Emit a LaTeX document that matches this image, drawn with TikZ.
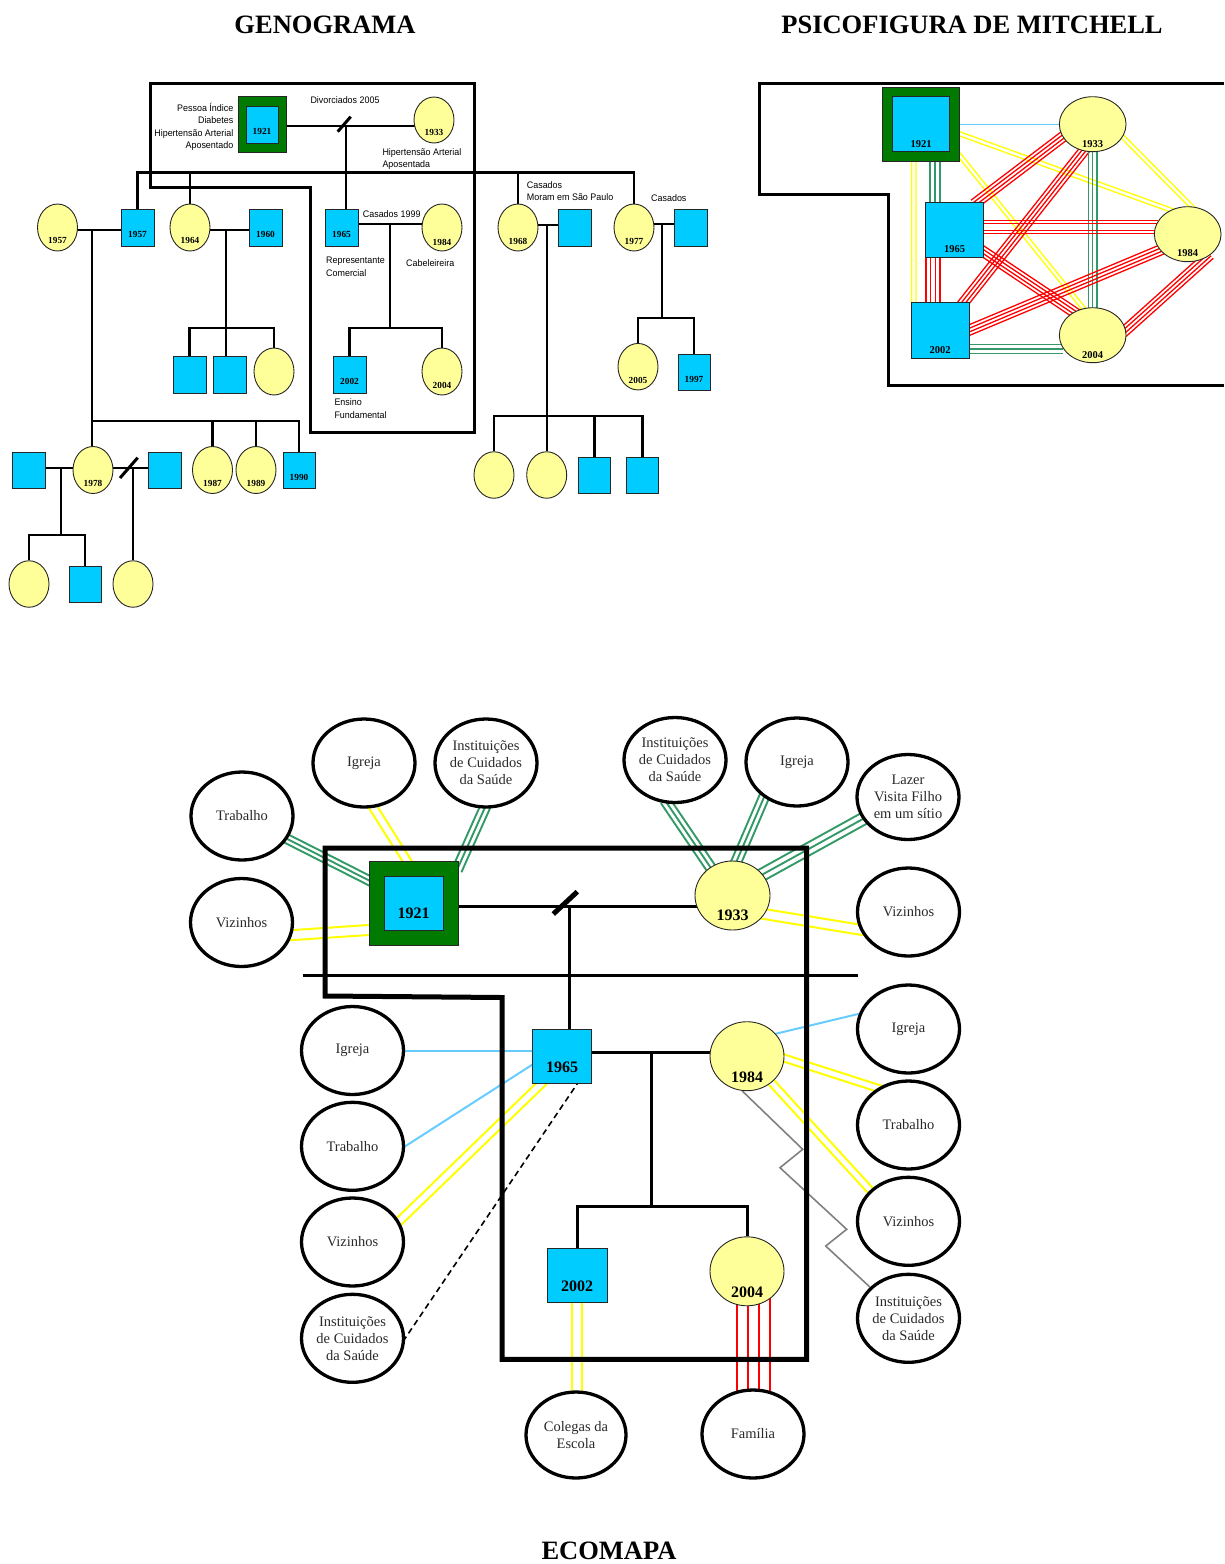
\documentclass[tikz,border=0pt]{standalone}
\usepackage{fontspec}
\setmainfont{Liberation Serif}
\newfontfamily\gsans[FakeStretch=0.94]{Liberation Sans}
\usetikzlibrary{shapes.geometric,calc}
\pgfdeclarelayer{bg}
\pgfsetlayers{bg,main}
\definecolor{cyanb}{HTML}{00CCFF}
\definecolor{yel}{HTML}{FFFF99}
\definecolor{dgreen}{HTML}{007A00}
\definecolor{lgreen}{HTML}{339966}
\definecolor{lyel}{HTML}{FFFF00}
\definecolor{lred}{HTML}{FF0000}
\definecolor{lblue}{HTML}{66CCFF}
\definecolor{txtg}{HTML}{2A2A2A}
\newcommand\parlines[4]{\foreach \offs in {#2}{\draw[#1] ($#3!\offs pt!90:#4$) -- ($#4!\offs pt!-90:#3$);}}
\tikzset{
 ttl/.style={font=\bfseries\fontsize{26.5}{30}\selectfont, inner sep=0pt},
 gtx/.style={font=\gsans\fontsize{9.5}{12.2}\selectfont, inner sep=0pt},
 gyr/.style={font=\bfseries\fontsize{9.3}{10}\selectfont, inner sep=0pt, yshift=#1pt},
 myr/.style={font=\bfseries\fontsize{10.5}{12}\selectfont, inner sep=0pt, yshift=#1pt},
 eyr/.style={font=\bfseries\fontsize{16}{18}\selectfont, inner sep=0pt, yshift=#1pt},
 sqb/.style={rectangle, draw=black!85, line width=0.9pt, fill=cyanb, inner sep=0pt},
 gsq/.style={sqb, minimum width=33pt, minimum height=37pt},
 cib/.style={ellipse, draw=black!85, line width=0.9pt, fill=yel, inner sep=0pt},
 gci/.style={cib, minimum width=40pt, minimum height=47pt},
 grn/.style={rectangle, draw=black!85, line width=0.9pt, fill=dgreen, inner sep=0pt},
 gl/.style={line width=2.3pt},
 el/.style={line width=3pt},
 eco/.style={ellipse, draw, line width=3.3pt, fill=white, minimum width=102pt, minimum height=88pt, inner sep=0pt, align=center, text=txtg, font=\fontsize{14.5}{17}\selectfont},
 ext/.style={shorten <=-4pt, shorten >=-4pt},
 ygl/.style={draw=lyel, line width=2pt, ext},
 grl/.style={draw=lgreen, line width=1.9pt, ext},
 rdl/.style={draw=lred, line width=2pt, ext},
 bll/.style={draw=lblue, line width=2pt, ext},
 myl/.style={draw=lyel, line width=1.3pt, ext},
 mgr/.style={draw=lgreen, line width=1.3pt, ext},
 mrd/.style={draw=lred, line width=1.3pt, ext},
 mbl/.style={draw=lblue, line width=1.3pt},
}
\begin{document}
\begin{tikzpicture}[x=1pt,y=-1pt]
\useasboundingbox (0,0) rectangle (1224,1564);

% ---------------- titles
\node[ttl] (t1) at (325,25) {GENOGRAMA};
\node[ttl] (t2) at (972,25) {PSICOFIGURA DE MITCHELL};
\node[ttl] (t3) at (609,1551) {ECOMAPA};

% ---------------- GENOGRAMA nodes
\node[grn, minimum width=48pt, minimum height=56pt] (g1921) at (262,124) {};
\node[sqb, minimum width=32pt, minimum height=37pt, label={[gyr=-7]center:1921}] (g1921i) at (262,124.5) {};
\node[cib, minimum width=40pt, minimum height=46pt, label={[gyr=-12.5]center:1933}] (g1933) at (434,120) {};
\node[gci, label={[gyr=-13]center:1957}] (gc1957) at (57.5,227.5) {};
\node[gsq, label={[gyr=-6.5]center:1957}] (gs1957) at (137.5,227.5) {};
\node[gci, label={[gyr=-13]center:1964}] (gc1964) at (190,227.5) {};
\node[gsq, label={[gyr=-6.5]center:1960}] (gs1960) at (265.5,227.5) {};
\node[gsq, label={[gyr=-6.5]center:1965}] (gs1965) at (341.5,227.5) {};
\node[gci, label={[gyr=-14.5]center:1984}] (gc1984) at (442,227.5) {};
\node[gci, label={[gyr=-14]center:1968}] (gc1968) at (518,227.5) {};
\node[gsq] (gs68h) at (574.5,227.5) {};
\node[gci, label={[gyr=-14]center:1977}] (gc1977) at (634,227.5) {};
\node[gsq] (gs77h) at (690.5,227.5) {};
\node[gsq] (gs64a) at (189.5,375) {};
\node[gsq] (gs64b) at (229.5,375) {};
\node[gci] (gc64c) at (274,371.5) {};
\node[gsq, label={[gyr=-6.5]center:2002}] (gs2002) at (349.5,374.5) {};
\node[gci, label={[gyr=-14]center:2004}] (gc2004) at (442,371.5) {};
\node[gci, minimum height=46.5pt, label={[gyr=-13.5]center:2005}] (gc2005) at (638,366.7) {};
\node[gsq, minimum width=32pt, minimum height=36pt, label={[gyr=-7.5]center:1997}] (gs1997) at (694,372) {};
\node[gci, minimum height=46.5pt] (gc68a) at (494,475) {};
\node[gci, minimum height=46.5pt] (gc68b) at (546.7,475) {};
\node[gsq, minimum width=32pt, minimum height=36pt] (gs68c) at (594.5,475.3) {};
\node[gsq, minimum width=32pt, minimum height=36pt] (gs68d) at (642.5,475.3) {};
\node[gsq, minimum height=36pt] (gs78h) at (28.5,470) {};
\node[gci, label={[gyr=-13]center:1978}] (gc1978) at (93,470) {};
\node[gsq, minimum height=36pt] (gs78x) at (165,470) {};
\node[gci, label={[gyr=-13]center:1987}] (gc1987) at (212.5,470) {};
\node[gci, label={[gyr=-13]center:1989}] (gc1989) at (256,470) {};
\node[gsq, minimum width=32pt, minimum height=36pt, label={[gyr=-7]center:1990}] (gs1990) at (299,470) {};
\node[gci, minimum height=46.5pt] (gc78a) at (29,584) {};
\node[gsq, minimum width=32pt, minimum height=36pt] (gs78b) at (85,584) {};
\node[gci, minimum height=46.5pt] (gc78c) at (133,584) {};

% genogram texts
\node[gtx, align=right, anchor=north east] (tpi) at (233.5,103.3) {Pessoa Índice\\Diabetes\\Hipertensão Arterial\\Aposentado};
\node[gtx, anchor=base] (tdiv) at (345,103.7) {Divorciados 2005};
\node[gtx, align=left, anchor=north west] (tha) at (382.3,148.6) {Hipertensão Arterial\\Aposentada};
\node[gtx, anchor=base west] (tc99) at (362.7,217.3) {Casados 1999};
\node[gtx, align=left, anchor=north west] (trc) at (326,257.2) {Representante\\Comercial};
\node[gtx, anchor=base west] (tcab) at (406,266) {Cabeleireira};
\node[gtx, align=left, anchor=north west] (tef) at (334.3,398.9) {Ensino\\Fundamental};
\node[gtx, align=left, anchor=north west] (tsp) at (526.7,181.5) {Casados\\Moram em São Paulo};
\node[gtx, anchor=base west] (tcas) at (651,201.7) {Casados};

% genogram frame
\draw[line width=3pt] (150,83) -- (474,83) -- (474,432) -- (310,432) -- (310,187) -- (150,187) -- cycle;

% ---------------- MITCHELL nodes
\node[grn, minimum width=76.6pt, minimum height=73.7pt] (m1921) at (921,124.2) {};
\node[sqb, minimum width=56.6pt, minimum height=55pt, label={[myr=-20]center:1921}] (m1921i) at (921,124.2) {};
\node[cib, minimum width=66.7pt, minimum height=55pt, label={[myr=-20]center:1933}] (m1933) at (1092.7,124.2) {};
\node[sqb, minimum width=57.6pt, minimum height=55pt, label={[myr=-19.5]center:1965}] (m1965) at (954.5,229.8) {};
\node[cib, minimum width=66.7pt, minimum height=55pt, label={[myr=-19]center:1984}] (m1984) at (1187.7,234.2) {};
\node[sqb, minimum width=57.7pt, minimum height=55.6pt, label={[myr=-19.5]center:2002}] (m2002) at (940.2,330.5) {};
\node[cib, minimum width=66.7pt, minimum height=55pt, label={[myr=-19.5]center:2004}] (m2004) at (1092.7,335.2) {};
\draw[line width=3pt] (1224,83.3) -- (759,83.3) -- (759,194) -- (888,194) -- (888,385) -- (1224,385);

% ---------------- ECOMAPA nodes
\node[eco] (eT1) at (242,816) {Trabalho};
\node[eco] (eI1) at (364,763) {Igreja};
\node[eco] (eH1) at (486,763) {Instituições\\de Cuidados\\da Saúde};
\node[eco] (eV1) at (241.5,922.5) {Vizinhos};
\node[eco, minimum height=85pt] (eH2) at (675,760) {Instituições\\de Cuidados\\da Saúde};
\node[eco] (eI2) at (797,762) {Igreja};
\node[eco, minimum height=85pt] (eL) at (908,797) {Lazer\\Visita Filho\\em um sítio};
\node[eco] (eV2) at (908.5,912) {Vizinhos};
\node[eco] (eI3) at (352.5,1050.5) {Igreja};
\node[eco] (eT3) at (352.5,1146.3) {Trabalho};
\node[eco] (eV3) at (352.5,1242) {Vizinhos};
\node[eco] (eH3) at (352.5,1338.3) {Instituições\\de Cuidados\\da Saúde};
\node[eco] (eI4) at (908.5,1029) {Igreja};
\node[eco] (eT4) at (908.5,1125) {Trabalho};
\node[eco] (eV4) at (908.5,1221.3) {Vizinhos};
\node[eco] (eH4) at (908.5,1318.3) {Instituições\\de Cuidados\\da Saúde};
\node[eco, minimum width=100pt, minimum height=86pt] (eC) at (576,1435) {Colegas da\\Escola};
\node[eco] (eF) at (753,1434) {Família};

\node[grn, minimum width=89pt, minimum height=84pt] (e1921) at (413.5,903) {};
\node[sqb, minimum width=59pt, minimum height=54pt, label={[eyr=-10]center:1921}] (e1921i) at (413.5,903) {};
\node[cib, minimum width=75pt, minimum height=69pt, label={[eyr=-20]center:1933}] (e1933) at (732.5,895.5) {};
\node[sqb, minimum width=59.4pt, minimum height=54pt, label={[eyr=-11]center:1965}] (e1965) at (562,1056.3) {};
\node[cib, minimum width=74pt, minimum height=69pt, label={[eyr=-21]center:1984}] (e1984) at (747,1056.2) {};
\node[sqb, minimum width=60pt, minimum height=54.5pt, label={[eyr=-10.5]center:2002}] (e2002) at (577,1275.5) {};
\node[cib, minimum width=74pt, minimum height=69pt, label={[eyr=-21]center:2004}] (e2004) at (747,1271.3) {};

\draw[line width=5pt] (325,848) -- (806.5,848) -- (806.5,1359.3) -- (502,1359.3) -- (502,997.5) -- (325,996) -- cycle;
\coordinate (sepL) at (302.7,975.7);
\coordinate (sepR) at (858.3,975.7);
\draw[line width=3pt] (sepL) -- (sepR);

% ================= connectors (background layer)
\begin{pgfonlayer}{bg}
% --- genogram
\coordinate (gm) at (346,126);
\draw[gl] (g1921 |- gm) -- (g1933 |- gm);
\draw[gl] (gm) -- (gm |- gs1965.north);
\draw[line width=3pt] ($(gm)+(-8.3,5.7)$) -- ($(gm)+(4.7,-9.3)$);
\coordinate (sib) at (0,173);
\draw[gl] (gs1957.north) -- ++(0,-36) -| (gc1977.north);
\draw[gl] (gc1964.north) -- (gc1964.north |- sib);
\draw[gl] (gc1968.north) -- (gc1968.north |- sib);
\coordinate (j57) at (92,230);
\coordinate (h57) at (92,421);
\draw[gl] (gc1957 |- j57) -- (gs1957 |- j57);
\draw[gl] (j57) -- (h57) -| (gs1990.north);
\draw[gl] (h57) -- (h57 |- gc1978.north);
\draw[gl] (gc1987.north) -- (gc1987.north |- h57);
\draw[gl] (gc1989.north) -- (gc1989.north |- h57);
\coordinate (j64) at (226,230);
\coordinate (h64) at (226,328);
\draw[gl] (gc1964 |- j64) -- (gs1960 |- j64);
\draw[gl] (j64) -- (h64);
\draw[gl] (gs64a.north) -- (gs64a.north |- h64) -| (gc64c.north);
\draw[gl] (gs64b.north -| h64) -- (h64);
\coordinate (j65) at (390,224.3);
\coordinate (h65) at (390,328);
\draw[gl] (gs1965 |- j65) -- (gc1984 |- j65);
\draw[gl] (j65) -- (h65);
\draw[gl] (gs2002.north) -- (gs2002.north |- h65) -| (gc2004.north);
\coordinate (j68) at (547.3,225);
\coordinate (h68) at (547.3,416);
\draw[gl] (gc1968 |- j68) -- (gs68h |- j68);
\draw[gl] (j68) -- (h68);
\draw[gl] (gc68a.north) -- (gc68a.north |- h68) -| (gs68d.north);
\draw[gl] (gs68c.north) -- (gs68c.north |- h68);
\draw[gl] (h68) -- (h68 |- gc68b.north);
\coordinate (j77) at (662.3,224.3);
\coordinate (h77) at (662.3,318);
\draw[gl] (gc1977 |- j77) -- (gs77h |- j77);
\draw[gl] (j77) -- (h77);
\draw[gl] (gc2005.north) -- (gc2005.north |- h77) -| (gs1997.north);
\coordinate (j78) at (61,468);
\coordinate (h78) at (61,535);
\draw[gl] (gs78h |- j78) -- (gc1978 |- j78);
\draw[gl] (j78) -- (h78);
\draw[gl] (gc78a.north) -- (gc78a.north |- h78) -| (gs78b.north);
\coordinate (j78b) at (133,468);
\draw[gl] (gc1978 |- j78b) -- (gs78x |- j78b);
\draw[gl] (j78b) -- (gc78c.north);
\draw[line width=3pt] ($(j78b)+(-13,10)$) -- ($(j78b)+(4.7,-10.3)$);

% --- Mitchell
\coordinate (mg1) at ($(m1921.south)+(14,0)$);
\coordinate (mg2) at ($(m1965.north)+(-19.5,0)$);
\coordinate (my1) at ($(m1921.south)+(-7.15,0)$);
\coordinate (my2) at ($(m2002.north)+(-26.35,0)$);
\coordinate (mr1) at ($(m1965.east)+(0,-2.8)$);
\coordinate (mr2) at ($(m1984.west)+(0,-7.2)$);
\coordinate (mr3) at ($(m1965.south)+(-21.5,0)$);
\coordinate (mr4) at ($(m2002.north)+(-7.2,0)$);
\coordinate (mg3) at ($(m2002.east)+(0,18.5)$);
\coordinate (mg4) at ($(m2004.west)+(0,13.8)$);
\draw[mbl] (m1921) -- (m1933);
\parlines{myl}{-2,2}{(m1921.-14)}{(m1984.125)}
\parlines{myl}{-2,2}{(m1921.-39)}{(m2004.109)}
\parlines{mgr}{-5,0,5}{(mg1)}{(mg2)}
\parlines{myl}{-2.15,2.15}{(my1)}{(my2)}
\parlines{myl}{-2,2}{(m1933.-23)}{(m1984.82)}
\parlines{mrd}{-5,-1.7,1.7,5}{(m1933.-157)}{(m1965.51)}
\parlines{mrd}{-5,-1.7,1.7,5}{(m1933.-109)}{(m2002.50)}
\parlines{mgr}{-4.2,0,4.2}{(m1933)}{(m2004)}
\parlines{mrd}{-6.3,-3.7,3.7,6.3}{(mr1)}{(mr2)}
\parlines{mrd}{-5,-1.7,1.7,5}{(m1965.-37)}{(m2004.129)}
\parlines{mrd}{-7,-2.3,2.3,7}{(mr3)}{(mr4)}
\parlines{mrd}{-5,-1.7,1.7,5}{(m1984.210)}{(m2002.1)}
\parlines{mrd}{-5,-1.7,1.7,5}{(m1984.-50)}{(m2004.9)}
\parlines{mgr}{-4.5,0,4.5}{(mg3)}{(mg4)}

% --- Ecomapa
\coordinate (em) at (569.3,906.7);
\draw[el] (e1921 |- em) -- (e1933 |- em);
\draw[el] (em) -- (em |- e1965);
\draw[line width=5pt] ($(em)+(-16,7.3)$) -- ($(em)+(8,-15)$);
\coordinate (ej) at (651,1052.3);
\coordinate (eh) at (651,1206.5);
\draw[el] (e1965 |- ej) -- (e1984 |- ej);
\draw[el] (ej) -- (eh);
\draw[el] (e2002.north) -- (e2002.north |- eh) -| (e2004.north);

\parlines{grl}{-4.5,0,4.5}{(eT1)}{(e1921)}
\parlines{ygl}{-4,4}{(eI1.-78)}{(e1921.99)}
\parlines{grl}{-5,0,5}{(eH1.-92)}{(e1921.39)}
\parlines{ygl}{-5,5}{(eV1.-14)}{(e1921.211)}
\parlines{grl}{-5,0,5}{(eH2.-100)}{(e1933.128)}
\parlines{grl}{-5,0,5}{(eI2.-133)}{(e1933.83)}
\parlines{grl}{-6,0,6}{(eL.206)}{(e1933.35)}
\parlines{ygl}{-5,5}{(e1933.-30)}{(eV2.200)}
\draw[bll] (eI3) -- (eI3 -| e1965);
\draw[bll] (eT3.east) -- (e1965.196);
\parlines{ygl}{-4,4}{(eV3.24)}{(e1965.233)}
\draw[line width=1.6pt, dash pattern=on 6pt off 4pt, ext] (eH3.east) -- (e1965.-61);
\draw[bll] (e1984.38) -- (eI4.163);
\parlines{ygl}{-3.5,3.5}{(e1984.-3)}{(eT4.130)}
\parlines{ygl}{-3.5,3.5}{(e1984.-47)}{(eV4.141)}
\draw[gray, line width=1.6pt] (e1984.-98) -- (802.7,1149.3) -- (780,1167.7) -- (846.7,1229.3) -- (825.7,1246) -- (eH4.141);
\coordinate (eCt) at (e2002 |- eC);
\coordinate (eFt) at (e2004 -| eF);
\parlines{ygl}{-5.3,5.3}{(e2002)}{(eCt)}
\parlines{rdl}{-16.5,-5.5,5.5,16.5}{(eFt)}{(eF)}
\end{pgfonlayer}
\end{tikzpicture}
\end{document}
